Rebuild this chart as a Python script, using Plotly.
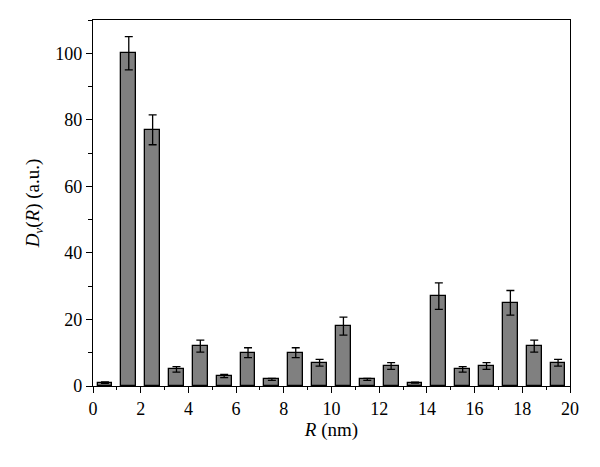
import plotly.graph_objects as go

R = [0.5, 1.5, 2.5, 3.5, 4.5, 5.5, 6.5, 7.5, 8.5, 9.5,
     10.5, 11.5, 12.5, 13.5, 14.5, 15.5, 16.5, 17.5, 18.5, 19.5]
Dv = [1, 100, 77, 5, 12, 3, 10, 2, 10, 7,
      18, 2, 6, 1, 27, 5, 6, 25, 12, 7]
err = [0.2, 5, 4.5, 0.8, 1.8, 0.5, 1.5, 0.3, 1.5, 1.0,
       2.7, 0.3, 1.0, 0.15, 4.0, 0.8, 1.0, 3.7, 1.8, 1.0]
x_ticks = [0, 2, 4, 6, 8, 10, 12, 14, 16, 18, 20]
y_ticks = [0, 20, 40, 60, 80, 100]

FONT = "Liberation Serif, Times New Roman, serif"

fig = go.Figure()
fig.add_trace(go.Bar(
    x=R, y=Dv, width=0.62,
    marker=dict(color="#808080", line=dict(color="black", width=1.3)),
    error_y=dict(type="data", array=err, visible=True, color="black",
                 thickness=1.3, width=4),
))

fig.update_layout(
    width=600, height=467,
    margin=dict(l=85, r=38, t=12, b=89),
    plot_bgcolor="white", paper_bgcolor="white",
    showlegend=False,
    font=dict(family=FONT, size=18, color="black"),
    bargap=0,
)
fig.update_xaxes(
    range=[0, 20], tickvals=x_ticks, ticks="outside", ticklen=6, tickwidth=1.3,
    tickcolor="black", showline=True, linecolor="black", linewidth=1.3, mirror=True,
    showgrid=False, zeroline=False, automargin=False,
    minor=dict(dtick=1, tick0=0, ticks="outside", ticklen=3, tickcolor="black", tickwidth=1.3),
    title=dict(text="<i>R</i> (nm)", standoff=4, font=dict(size=19)),
    tickfont=dict(size=18),
)
fig.update_yaxes(
    range=[0, 110], tickvals=y_ticks, ticks="outside", ticklen=6, tickwidth=1.3,
    tickcolor="black", showline=True, linecolor="black", linewidth=1.3, mirror=True,
    showgrid=False, zeroline=False, automargin=False,
    minor=dict(dtick=10, tick0=0, ticks="outside", ticklen=4, tickcolor="black", tickwidth=1.3),
    title=dict(text="<i>D</i><sub><i>ν</i></sub>(<i>R</i>) (a.u.)", standoff=10, font=dict(size=19)),
    tickfont=dict(size=18),
)

fig.write_html("out.html")
